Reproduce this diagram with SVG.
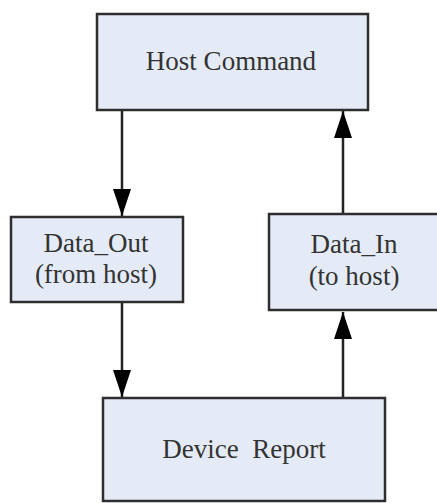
<svg xmlns="http://www.w3.org/2000/svg" width="437" height="503" viewBox="0 0 437 503">
<style>
.box{fill:#e5ebf6;stroke:#2e2e2e;stroke-width:2.5}
.lbl{font-family:"Liberation Serif","Times New Roman",serif;font-size:27px;fill:#333;text-anchor:middle}
.conn{stroke:#222;stroke-width:2.5;fill:none}
</style>
<defs>
<marker id="ah" markerUnits="userSpaceOnUse" markerWidth="27" markerHeight="18" refX="27" refY="9" orient="auto" viewBox="0 0 27 18">
<path d="M0,0 L27,9 L0,18 Z" fill="#000"/>
</marker>
</defs>
<rect width="437" height="503" fill="#fff"/>
<g id="connectors">
<line class="conn" x1="122" y1="110" x2="122" y2="216" marker-end="url(#ah)"/>
<line class="conn" x1="122" y1="302" x2="122" y2="397" marker-end="url(#ah)"/>
<line class="conn" x1="343" y1="398" x2="343" y2="312" marker-end="url(#ah)"/>
<line class="conn" x1="343" y1="214" x2="343" y2="111" marker-end="url(#ah)"/>
</g>
<g id="host-command">
<rect class="box" x="97" y="14" width="271" height="96"/>
<text class="lbl" x="231" y="70">Host Command</text>
</g>
<g id="data-out">
<rect class="box" x="11" y="217" width="172" height="85"/>
<text class="lbl" x="96" y="252">Data_Out</text>
<text class="lbl" x="96" y="283">(from host)</text>
</g>
<g id="data-in">
<rect class="box" x="269" y="214" width="175" height="96"/>
<text class="lbl" x="354" y="253">Data_In</text>
<text class="lbl" x="354" y="285">(to host)</text>
</g>
<g id="device-report">
<rect class="box" x="103" y="398" width="282" height="103"/>
<text class="lbl" x="244" y="458" xml:space="preserve">Device  Report</text>
</g>
</svg>
